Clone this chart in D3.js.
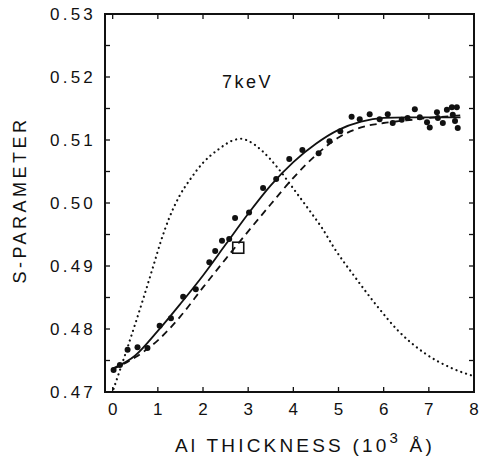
<!DOCTYPE html>
<html>
<head>
<meta charset="utf-8">
<script src="https://cdn.jsdelivr.net/npm/d3@7"></script>
<style>
  body { margin: 0; background: #fff; }
  text { font-family: "Liberation Sans", Arial, sans-serif; fill: #111; }
</style>
</head>
<body>
<svg width="486" height="459"></svg>
<script>
// measured data points (thickness in 10^3 A, S-parameter)
var pointX = [0.02, 0.16, 0.33, 0.55, 0.77, 1.04, 1.29, 1.56, 1.84, 2.14, 2.27, 2.42, 2.58, 2.71,
  3.02, 3.33, 3.62, 3.91, 4.20, 4.56, 4.80, 5.04, 5.29, 5.47, 5.69, 5.91, 6.09, 6.20, 6.40, 6.53,
  6.69, 6.80, 6.96, 7.02, 7.18, 7.20, 7.31, 7.40, 7.51, 7.53, 7.62, 7.64, 7.58];
var pointS = [0.4735, 0.4743, 0.4767, 0.4771, 0.4770, 0.4805, 0.4817, 0.4851, 0.4863, 0.4906, 0.4924, 0.4940, 0.4943, 0.4976,
  0.4985, 0.5024, 0.5038, 0.5070, 0.5084, 0.5079, 0.5098, 0.5114, 0.5137, 0.5133, 0.5141, 0.5133, 0.5141, 0.5127, 0.5132, 0.5135,
  0.5149, 0.5136, 0.5128, 0.5120, 0.5144, 0.5135, 0.5127, 0.5148, 0.5152, 0.5140, 0.5152, 0.5119, 0.5130];

// solid fit
var solidX = [0, 0.5, 1.0, 1.5, 2.0, 2.5, 3.0, 3.5, 4.0, 4.5, 5.0, 5.5, 6.0, 6.5, 7.0, 7.7];
var solidS = [0.4737, 0.4758, 0.4797, 0.4840, 0.4885, 0.4934, 0.4983, 0.5028, 0.5065, 0.5094, 0.5116, 0.5129, 0.5135, 0.5136, 0.5136, 0.5136];

// dashed fit
var dashX = [0, 0.5, 1.0, 1.5, 2.0, 2.5, 3.0, 3.5, 4.0, 4.5, 5.0, 5.5, 6.0, 6.5, 7.0, 7.7];
var dashS = [0.4736, 0.4755, 0.4782, 0.4820, 0.4866, 0.4911, 0.4955, 0.4998, 0.5040, 0.5076, 0.5104, 0.5120, 0.5127, 0.5131, 0.5135, 0.5139];

// dotted profile
var dotX = [0.02, 0.33, 0.69, 0.90, 1.07, 1.25, 1.47, 1.73, 1.99, 2.32, 2.69, 2.85, 2.99, 3.29, 3.64,
  4.02, 4.40, 4.62, 4.91, 5.36, 5.87, 6.31, 6.90, 7.50, 8.0];
var dotS = [0.4705, 0.4771, 0.4851, 0.4900, 0.4940, 0.4976, 0.5010, 0.5039, 0.5063, 0.5084, 0.5100, 0.5102, 0.5099, 0.5084, 0.5057,
  0.5021, 0.4984, 0.4962, 0.4928, 0.4883, 0.4835, 0.4798, 0.4762, 0.4738, 0.4725];

// open square marker
var boxX = [2.78];
var boxS = [0.4929];

var xTicks = [0, 1, 2, 3, 4, 5, 6, 7, 8];
var yTicks = [0.47, 0.48, 0.49, 0.50, 0.51, 0.52, 0.53];
var yMinor = [0.475, 0.485, 0.495, 0.505, 0.515, 0.525];

var svg = d3.select("svg");
var pLeft = 105, pRight = 474, pTop = 14, pBottom = 392;

var x = d3.scaleLinear().domain([-0.17, 8]).range([pLeft, pRight]);
var y = d3.scaleLinear().domain([0.47, 0.53]).range([pBottom, pTop]);

function zip(xs, ys) {
  return xs.map(function (d, i) { return [d, ys[i]]; });
}

var line = d3.line()
  .x(function (d) { return x(d[0]); })
  .y(function (d) { return y(d[1]); })
  .curve(d3.curveMonotoneX);

svg.append("path")
  .datum(zip(dotX, dotS))
  .attr("d", line)
  .attr("fill", "none")
  .attr("stroke", "#111")
  .attr("stroke-width", 2.2)
  .attr("stroke-linecap", "round")
  .attr("stroke-dasharray", "0.1 5");

svg.append("path")
  .datum(zip(dashX, dashS))
  .attr("d", line)
  .attr("fill", "none")
  .attr("stroke", "#111")
  .attr("stroke-width", 1.8)
  .attr("stroke-dasharray", "7 5");

svg.append("path")
  .datum(zip(solidX, solidS))
  .attr("d", line)
  .attr("fill", "none")
  .attr("stroke", "#111")
  .attr("stroke-width", 1.8);

svg.append("g")
  .selectAll("circle")
  .data(zip(pointX, pointS))
  .enter().append("circle")
  .attr("cx", function (d) { return x(d[0]); })
  .attr("cy", function (d) { return y(d[1]); })
  .attr("r", 3)
  .attr("fill", "#111");

svg.append("g")
  .selectAll("rect")
  .data(zip(boxX, boxS))
  .enter().append("rect")
  .attr("x", function (d) { return x(d[0]) - 5.5; })
  .attr("y", function (d) { return y(d[1]) - 5.5; })
  .attr("width", 11)
  .attr("height", 11)
  .attr("fill", "none")
  .attr("stroke", "#111")
  .attr("stroke-width", 1.6);

// frame
svg.append("rect")
  .attr("x", pLeft).attr("y", pTop)
  .attr("width", pRight - pLeft).attr("height", pBottom - pTop)
  .attr("fill", "none")
  .attr("stroke", "#111")
  .attr("stroke-width", 2);

// inward ticks
var tk = 5;
var ticks = svg.append("g").attr("stroke", "#111").attr("stroke-width", 1.3);
xTicks.forEach(function (t) {
  ticks.append("line").attr("x1", x(t)).attr("x2", x(t)).attr("y1", pBottom).attr("y2", pBottom - tk);
  ticks.append("line").attr("x1", x(t)).attr("x2", x(t)).attr("y1", pTop).attr("y2", pTop + tk);
});
yTicks.concat(yMinor).forEach(function (t) {
  ticks.append("line").attr("x1", pLeft).attr("x2", pLeft + tk).attr("y1", y(t)).attr("y2", y(t));
  ticks.append("line").attr("x1", pRight).attr("x2", pRight - tk).attr("y1", y(t)).attr("y2", y(t));
});

// tick labels
svg.append("g")
  .selectAll("text")
  .data(yTicks)
  .enter().append("text")
  .attr("x", 96)
  .attr("y", function (d) { return y(d) + 6; })
  .attr("text-anchor", "end")
  .attr("font-size", 17)
  .attr("letter-spacing", 3.2)
  .text(function (d) { return d3.format(".2f")(d); });

svg.append("g")
  .selectAll("text")
  .data(xTicks)
  .enter().append("text")
  .attr("x", function (d) { return x(d); })
  .attr("y", 415)
  .attr("text-anchor", "middle")
  .attr("font-size", 17)
  .text(function (d) { return d; });

// axis titles
var xt = svg.append("text")
  .attr("x", 175)
  .attr("y", 452)
  .attr("font-size", 19)
  .attr("letter-spacing", 3.2);
xt.append("tspan").text("Al THICKNESS (10");
xt.append("tspan").attr("dy", -9).attr("font-size", 15).text("3");
xt.append("tspan").attr("dy", 9).text(" Å)");

svg.append("text")
  .attr("transform", "translate(26,200) rotate(-90)")
  .attr("text-anchor", "middle")
  .attr("font-size", 18)
  .attr("letter-spacing", 3.5)
  .text("S-PARAMETER");

svg.append("text")
  .attr("x", 222)
  .attr("y", 88)
  .attr("font-size", 18)
  .attr("letter-spacing", 2.5)
  .text("7keV");
</script>
</body>
</html>
